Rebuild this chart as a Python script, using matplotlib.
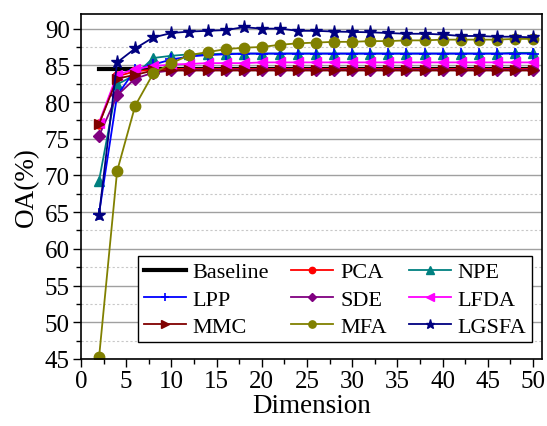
import numpy as np
import matplotlib
matplotlib.use('Agg')
from matplotlib import pyplot as plt
from matplotlib.ticker import MultipleLocator

plt.rcParams['font.family'] = ['Liberation Serif', 'DejaVu Serif']
plt.rcParams['mathtext.fontset'] = 'stix'

dims = list(range(2, 51, 2))
baseline = 84.5

pca = [77.0, 83.5, 84.2, 84.4, 84.5, 84.5, 84.5, 84.5, 84.5, 84.5, 84.5, 84.5, 84.5,
       84.5, 84.5, 84.5, 84.5, 84.5, 84.5, 84.5, 84.5, 84.5, 84.5, 84.5, 84.5]
npe = [69.3, 82.4, 83.7, 86.0, 86.3, 86.5, 86.5, 86.6, 86.6, 86.6, 86.6, 86.6, 86.6,
       86.6, 86.6, 86.6, 86.6, 86.6, 86.6, 86.6, 86.6, 86.6, 86.6, 86.7, 86.7]
lpp = [64.8, 80.9, 84.4, 85.1, 85.8, 86.2, 86.4, 86.5, 86.6, 86.6, 86.6, 86.6, 86.6,
       86.6, 86.6, 86.6, 86.6, 86.6, 86.6, 86.6, 86.6, 86.6, 86.6, 86.6, 86.6]
sde = [75.4, 80.9, 83.2, 84.0, 84.3, 84.4, 84.4, 84.4, 84.4, 84.4, 84.4, 84.4, 84.4,
       84.4, 84.4, 84.4, 84.4, 84.4, 84.4, 84.4, 84.4, 84.4, 84.4, 84.4, 84.4]
lfda = [77.2, 83.7, 84.5, 84.9, 85.1, 85.2, 85.3, 85.3, 85.3, 85.4, 85.4, 85.4, 85.4,
        85.4, 85.4, 85.4, 85.4, 85.4, 85.4, 85.4, 85.4, 85.4, 85.4, 85.4, 85.4]
mmc = [77.0, 83.2, 83.7, 84.3, 84.3, 84.3, 84.3, 84.3, 84.3, 84.3, 84.3, 84.3, 84.3,
       84.3, 84.3, 84.3, 84.3, 84.3, 84.3, 84.3, 84.3, 84.3, 84.3, 84.3, 84.3]
mfa = [45.2, 70.6, 79.5, 83.9, 85.3, 86.4, 86.8, 87.2, 87.4, 87.5, 87.8, 88.0, 88.1,
       88.2, 88.2, 88.3, 88.3, 88.4, 88.4, 88.5, 88.5, 88.5, 88.5, 88.6, 88.6]
lgsfa = [64.6, 85.4, 87.3, 88.8, 89.4, 89.6, 89.7, 89.8, 90.2, 90.0, 90.0, 89.7, 89.7,
         89.6, 89.55, 89.5, 89.4, 89.3, 89.3, 89.2, 89.0, 89.0, 88.9, 88.9, 88.8]

fig = plt.figure(figsize=(5.47, 4.27), dpi=100)
ax = fig.add_axes([0.148, 0.157, 0.843, 0.808])

ax.grid(True, which='major', axis='y', color='#a0a0a0', linewidth=1.0, zorder=0)
ax.grid(True, which='minor', axis='y', color='#c8c8c8', linewidth=0.8,
        linestyle=(0, (2, 2)), zorder=0)

lw = 1.3
ms = 6.5
h_base, = ax.plot([dims[0], dims[-1]], [baseline, baseline], color='black', lw=3, label='Baseline')
h_pca, = ax.plot(dims, pca, color='#ff0000', marker='o', ms=ms, lw=lw, label='PCA')
h_npe, = ax.plot(dims, npe, color='#008080', marker='^', ms=ms + 1, lw=lw, label='NPE')
h_lpp, = ax.plot(dims, lpp, color='#0000ff', marker='+', ms=ms + 2, mew=1.2, lw=lw, label='LPP')
h_sde, = ax.plot(dims, sde, color='#800080', marker='D', ms=ms, lw=lw, label='SDE')
h_lfda, = ax.plot(dims, lfda, color='#ff00ff', marker='<', ms=ms + 1, lw=lw, label='LFDA')
h_mmc, = ax.plot(dims, mmc, color='#800000', marker='>', ms=ms + 1, lw=lw, label='MMC')
h_mfa, = ax.plot(dims, mfa, color='#808000', marker='o', ms=ms + 1, lw=lw, label='MFA')
h_lgsfa, = ax.plot(dims, lgsfa, color='#000080', marker='*', ms=ms + 3, lw=lw, label='LGSFA')

ax.set_xlim(0, 51)
ax.set_ylim(45, 92)
ax.xaxis.set_major_locator(MultipleLocator(5))
ax.xaxis.set_minor_locator(MultipleLocator(2.5))
ax.yaxis.set_major_locator(MultipleLocator(5))
ax.yaxis.set_minor_locator(MultipleLocator(2.5))
ax.tick_params(which='major', direction='out', length=6, width=1, labelsize=18, pad=2)
ax.tick_params(which='minor', direction='out', length=3.5, width=1)
for s in ax.spines.values():
    s.set_linewidth(1.2)

ax.set_xlabel('Dimension', fontsize=19.5, labelpad=1)
ax.set_ylabel('OA(%)', fontsize=19.5, labelpad=4)

# legend is filled column by column, so order handles to read row-wise
handles = [h_base, h_lpp, h_mmc, h_pca, h_sde, h_mfa, h_npe, h_lfda, h_lgsfa]
leg = ax.legend(handles=handles, ncol=3, loc='lower right', bbox_to_anchor=(0.988, 0.035),
                fontsize=16, frameon=True, fancybox=False, edgecolor='black',
                framealpha=1, handlelength=1.9, handletextpad=0.3, columnspacing=1.0,
                labelspacing=0.3, borderpad=0.25, borderaxespad=0.2, markerscale=0.7)
leg.get_frame().set_linewidth(1.0)

fig.savefig('out.png', dpi=100)
